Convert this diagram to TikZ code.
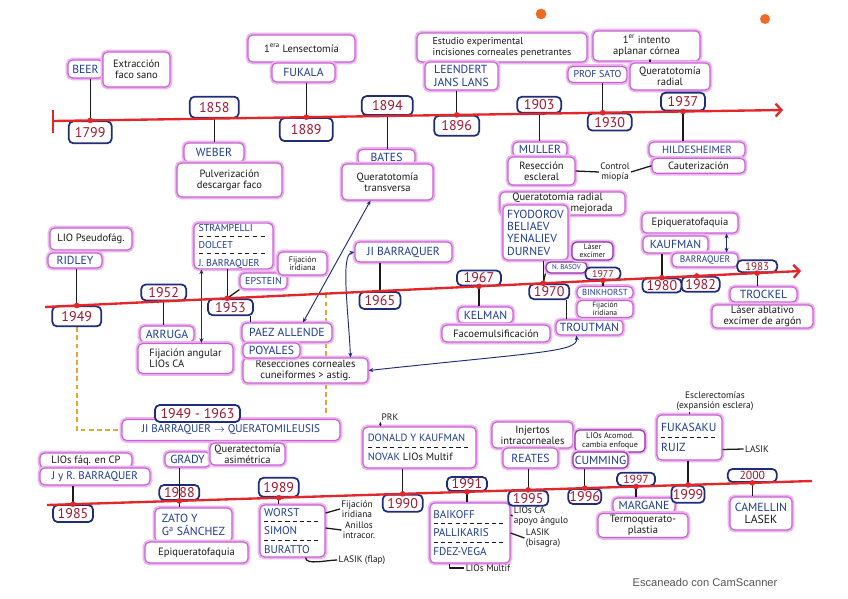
\documentclass[tikz,border=0pt]{standalone}
\usepackage{fontspec}
\setmainfont{PT Sans}
\setsansfont{Liberation Sans}
\usepackage{xcolor}
\usetikzlibrary{arrows.meta,positioning,calc}
\definecolor{tlred}{HTML}{E3262A}
\definecolor{hlpink}{HTML}{EDB4EF}
\definecolor{boxpink}{HTML}{C961D3}
\definecolor{boxpurple}{HTML}{8E2FA6}
\definecolor{navy}{HTML}{1F2C7C}
\definecolor{yrred}{HTML}{A3182E}
\definecolor{nameblue}{HTML}{1E3C94}
\definecolor{ink}{HTML}{1A1A1A}
\definecolor{hlorange}{HTML}{E2A72E}
\definecolor{holeorange}{HTML}{F06A24}
\definecolor{scangray}{HTML}{555555}
\pgfdeclarelayer{background}
\pgfsetlayers{background,main}
\tikzset{fig/.style={line join=round,>=Stealth},
  sz/.style 2 args={minimum width=#1*0.03cm,minimum height=#2*0.03cm},
  pinkbox/.style={rounded corners=4pt,fill=white,draw=boxpink,line width=1pt,
    preaction={draw=hlpink,line width=4pt},inner sep=0.7pt,align=center},
  deep/.style={draw=boxpurple},
  note/.style={pinkbox,text=ink,font=\fontsize{9}{9.5}\selectfont},
  who/.style={pinkbox,text=nameblue,font=\fontsize{10}{10.5}\selectfont},
  yr/.style={rounded corners=4pt,fill=white,draw=navy,line width=1.5pt,text=yrred,
    inner sep=0.5pt,font=\fontsize{12}{12}\selectfont},
  aside/.style={text=ink,align=center,inner sep=1pt,font=\fontsize{8}{9}\selectfont},
  stem/.style={ink,line width=1.1pt},
  link/.style={navy,line width=0.8pt,<->,>={Stealth[length=4pt,width=3.5pt]}},
  tline/.style={tlred,line width=2pt},
  dashline/.style={hlorange,line width=1.4pt,dash pattern=on 4pt off 3pt}}
\newcommand\dashsep[1]{\\[-2pt]\hbox to #1{\color{ink}\xleaders\hbox{\rule[3pt]{3.5pt}{0.6pt}\hskip 2.5pt}\hfill}\\[-2pt]}

\begin{document}
\begin{tikzpicture}[fig,x=0.03cm,y=-0.03cm]
  \useasboundingbox (0,0) rectangle (848,599);
  % the three time lines and their years
  \path (53,121) coordinate (ta) -- (783,110) coordinate (tb)
    coordinate[pos=0.051] (d1799) coordinate[pos=0.221] (d1858)
    coordinate[pos=0.347] (d1889) coordinate[pos=0.458] (d1894)
    coordinate[pos=0.553] (d1896) coordinate[pos=0.666] (d1903)
    coordinate[pos=0.753] (d1930) coordinate[pos=0.863] (d1937);
  \path (45,307) coordinate (ma) -- (801,271) coordinate (mb)
    coordinate[pos=0.042] (d1949) coordinate[pos=0.157] (d1952)
    coordinate[pos=0.241] (d1953) coordinate[pos=0.372] (d1963)
    coordinate[pos=0.443] (d1965) coordinate[pos=0.574] (d1967)
    coordinate[pos=0.659] (d1970) coordinate[pos=0.738] (d1977)
    coordinate[pos=0.816] (d1980) coordinate[pos=0.862] (d1982)
    coordinate[pos=0.942] (d1983);
  \path (47,505) coordinate (ba) -- (812,481) coordinate (bb)
    coordinate[pos=0.034] (d1985) coordinate[pos=0.173] (d1988)
    coordinate[pos=0.303] (d1989) coordinate[pos=0.465] (d1990)
    coordinate[pos=0.549] (d1991) coordinate[pos=0.629] (d1995)
    coordinate[pos=0.703] (d1996) coordinate[pos=0.770] (d1997)
    coordinate[pos=0.838] (d1999) coordinate[pos=0.922] (d2000);

  % top line: 1799 -- 1937
  \node[who,sz={35}{18}] (beer) at (85.5,69) {BEER};
  \node[note,sz={67}{35}] (beernote) at (136.5,69.5) {Extracción\\faco sano};
  \node[yr,sz={43}{22},below=0pt of d1799] (y1799) {1799};
  \node[yr,sz={49}{21},above=0pt of d1858] (y1858) {1858};
  \node[who,sz={60}{19}] (weber) at (214,152.5) {WEBER};
  \node[note,sz={105}{34}] (webernote) at (229.5,180) {Pulverización\\descargar faco};
  \node[note,sz={107}{27}] (lensect) at (301.5,48.5) {1\textsuperscript{era} Lensectomía};
  \node[who,sz={63}{19}] (fukala) at (303.5,72.5) {FUKALA};
  \node[yr,sz={53}{23},below=0pt of d1889] (y1889) {1889};
  \node[yr,sz={51}{19},above=0pt of d1894] (y1894) {1894};
  \node[who,sz={57}{15}] (bates) at (386.5,157) {BATES};
  \node[note,sz={91}{36}] (batesnote) at (387.5,182) {Queratotomía\\transversa};
  \node[note,sz={170}{29},align=left,font=\fontsize{8.5}{9}\selectfont] (lansnote) at (502,47.5) {Estudio experimental\\incisiones corneales penetrantes};
  \node[who,sz={73}{28},align=left] (lans) at (461.5,76) {LEENDERT\\JANS LANS};
  \node[yr,sz={45}{20},below=0pt of d1896] (y1896) {1896};
  \node[yr,sz={44}{16},above=0pt of d1903] (y1903) {1903};
  \node[who,sz={54}{15}] (muller) at (540,149.5) {MULLER};
  \node[note,sz={67}{28}] (mullernote) at (541.5,171) {Resección\\escleral};
  \node[aside] (miopia) at (615,172) {Control\\miopía};
  \node[note,sz={107}{30}] (satonote) at (646.5,46) {1\textsuperscript{er} intento\\aplanar córnea};
  \node[who,sz={59}{16},font=\fontsize{8.5}{9}\selectfont] (sato) at (597.5,74.5) {PROF SATO};
  \node[yr,sz={44}{17},below=0pt of d1930,xshift=0.21cm] (y1930) {1930};
  \node[note,sz={80}{27}] (qrnote) at (670,76.5) {Queratotomía\\radial};
  \node[yr,sz={44}{18},above=0pt of d1937] (y1937) {1937};
  \node[who,sz={96}{15},font=\fontsize{9}{9.5}\selectfont] (hilde) at (697,149.5) {HILDESHEIMER};
  \node[note,sz={93}{15}] (hildenote) at (698.5,165.8) {Cauterización};
  \draw[stem] (d1799 |- beer.south) -- (d1799);
  \draw[stem] (d1858) -- (d1858 |- weber.north);
  \draw[stem] (d1889 |- fukala.south) -- (d1889);
  \draw[stem] (d1894) -- (d1894 |- bates.north);
  \draw[stem] (d1896 |- lans.south) -- (d1896);
  \draw[stem] (d1903) -- (d1903 |- muller.north);
  \draw[stem] (mullernote.east) -- (miopia.west);
  \draw[stem] (miopia.east) -- (hildenote.west);
  \draw[stem] (d1930 |- sato.south) -- (d1930);
  \draw[stem,->,>={Stealth[length=3pt]}] ($(satonote.south)+(3.5,0)$) -- ($(satonote.south |- qrnote.north)+(3.5,0)$);
  \draw[stem] (d1937) -- (d1937 |- hilde.north);

  % middle line: 1949 -- 1983
  \node[note,sz={82}{22}] (ridleynote) at (91,239) {LIO Pseudofág.};
  \node[who,sz={54}{15}] (ridley) at (75,260.5) {RIDLEY};
  \node[yr,sz={49}{20},below=0pt of d1949] (y1949) {1949};
  \node[yr,sz={45}{16},above=0pt of d1952] (y1952) {1952};
  \node[who,sz={54}{16}] (arruga) at (167,334) {ARRUGA};
  \node[note,sz={95}{30},align=left] (arruganote) at (185.5,358.5) {Fijación angular\\LIOs CA};
  \node[who,sz={79}{42},align=left,font=\fontsize{8.5}{9.5}\selectfont] (strampelli) at (233.5,246) {STRAMPELLI\dashsep{2.1cm}DOLCET\dashsep{2.1cm}J. BARRAQUER};
  \node[who,sz={47}{16},font=\fontsize{8.5}{9.5}\selectfont] (epstein) at (263.5,281) {EPSTEIN};
  \node[note,sz={49}{23},font=\fontsize{7}{7.5}\selectfont] (epsteinnote) at (302.5,263.5) {Fijación\\iridiana};
  \node[yr,sz={45}{16},below=0pt of d1953,xshift=0.1cm] (y1953) {1953};
  \node[who,sz={90}{19}] (paez) at (287,332.5) {PAEZ ALLENDE};
  \node[note,sz={125}{25}] (resnote) at (305.5,370.5) {Resecciones corneales\\cuneiformes > astig.};
  \node[who,sz={57}{15}] (poyales) at (271.5,350.5) {POYALES};
  \node[who,sz={97}{20}] (jib) at (403.5,252) {JI BARRAQUER};
  \node[yr,sz={41}{17},below=0pt of d1965] (y1965) {1965};
  \node[yr,sz={44}{15},above=0pt of d1967] (y1967) {1967};
  \node[who,sz={55}{16}] (kelman) at (485.5,315) {KELMAN};
  \node[note,sz={108}{17}] (kelmannote) at (496,333.5) {Facoemulsificación};
  \node[note,sz={125}{23},align=left] (qrmnote) at (562.5,203.5) {Queratotomía radial\\\hspace*{1.75cm}mejorada};
  \node[who,sz={65}{55},align=left] (fyodorov) at (535.5,232.5) {FYODOROV\\BELIAEV\\YENALIEV\\DURNEV};
  \node[who,deep,sz={41}{11},font=\fontsize{6}{6.5}\selectfont] (basov) at (566.5,267.5) {N. BASOV};
  \node[note,deep,sz={41}{18},font=\fontsize{6.5}{7}\selectfont] (lasernote) at (592.5,251) {Láser\\excímer};
  \node[yr,sz={40}{15},below=0pt of d1970,xshift=0.18cm] (y1970) {1970};
  \node[who,sz={67}{15}] (troutman) at (589.5,327.5) {TROUTMAN};
  \node[yr,sz={35}{12},above=0pt of d1977,font=\fontsize{8.5}{9}\selectfont] (y1977) {1977};
  \node[who,sz={56}{12},font=\fontsize{7.5}{8}\selectfont] (binkhorst) at (605,292.5) {BINKHORST};
  \node[note,sz={56}{17},font=\fontsize{6.5}{7}\selectfont] (binknote) at (605,309) {Fijación\\iridiana};
  \node[note,sz={96}{20}] (epiknote) at (690,223) {Epiqueratofaquia};
  \node[who,sz={65}{17}] (kaufman) at (675.5,244.5) {KAUFMAN};
  \node[yr,sz={39}{14},below=0pt of d1980] (y1980) {1980};
  \node[yr,sz={38}{15},below=0pt of d1982,xshift=0.12cm] (y1982) {1982};
  \node[who,sz={66}{14},font=\fontsize{8}{8.5}\selectfont] (barraq) at (705,260) {BARRAQUER};
  \node[yr,sz={40}{12},above=0pt of d1983,font=\fontsize{9.5}{10}\selectfont] (y1983) {1983};
  \node[who,sz={67}{15}] (trockel) at (763.5,294.5) {TROCKEL};
  \node[note,sz={101}{23}] (trockelnote) at (762.5,316.5) {Láser ablativo\\excímer de argón};
  \draw[stem] (d1949 |- ridley.south) -- (d1949);
  \draw[stem] (d1952) -- (d1952 |- arruga.north);
  \draw[link] ($(strampelli.south west)+(8,0)$) -- ($(strampelli.south west |- arruganote.north)+(8,0)$);
  \draw[stem] (d1953 |- strampelli.south) -- (d1953);
  \draw[stem] (d1953) -- (epstein.south west);
  \draw[stem] ($(y1953.south -| paez.north west)+(9,0)$) -- ($(paez.north west)+(9,0)$);
  \draw[link] ($(batesnote.south)+(-17,0)$) -- ($(paez.north)+(16,0)$);
  \draw[stem] (d1965 |- jib.south) -- (d1965);
  \draw[link] (jib.west) .. controls +(-14,3) and +(-2,-45) .. ($(resnote.north)+(45,0)$);
  \draw[stem] (d1967) -- (d1967 |- kelman.north);
  \draw[stem] (d1970 |- fyodorov.south) -- (d1970);
  \draw[stem] (d1970) -- (basov.south west);
  \draw[stem] ($(y1970.south -| troutman.north west)+(11,0)$) -- ($(troutman.north west)+(11,0)$);
  \draw[link] (resnote.east) .. controls (540,352) and (578,352) .. ($(troutman.south west)+(21,0)$);
  \draw[stem] (d1977) -- (d1977 |- binkhorst.north);
  \draw[stem] (d1980 |- kaufman.south) -- (d1980);
  \draw[link] ($(epiknote.south east)+(-12,0)$) -- ($(barraq.north east)+(-12,0)$);
  \draw[stem] (d1983) -- (d1983 |- trockel.north);

  % bottom line: 1985 -- 2000
  \node[who,sz={218}{21},font=\fontsize{9.5}{10}\selectfont] (jibq) at (231,430) {JI BARRAQUER $\rightarrow$ QUERATOMILEUSIS};
  \node[yr,sz={85}{17}] (p4963) at (197.5,413.5) {1949 - 1963};
  \node[note,sz={92}{15}] (fpnote) at (86,460.5) {LIOs fáq. en CP};
  \node[who,sz={110}{17},font=\fontsize{9.5}{10}\selectfont] (jrb) at (95,476.5) {J y R. BARRAQUER};
  \node[yr,sz={40}{17},below=0pt of d1985] (y1985) {1985};
  \node[who,sz={45}{15}] (grady) at (187.5,459.5) {GRADY};
  \node[note,sz={75}{22}] (gradynote) at (247.5,454) {Queratectomía\\asimétrica};
  \node[yr,sz={40}{15},above=0pt of d1988] (y1988) {1988};
  \node[who,sz={77}{34},align=left] (zato) at (193.5,525) {ZATO Y\\G\textsuperscript{a} SÁNCHEZ};
  \node[note,sz={103}{21}] (zatonote) at (196.5,552.5) {Epiqueratofaquia};
  \node[yr,sz={40}{19},above=0pt of d1989] (y1989) {1989};
  \node[who,sz={65}{52},align=left,font=\fontsize{9.5}{10}\selectfont] (worst) at (292.5,531) {WORST\dashsep{1.7cm}SIMON\dashsep{1.7cm}BURATTO};
  \node[aside] (fijtext) at (357,509) {Fijación\\iridiana};
  \node[aside] (anitext) at (359,530) {Anillos\\intracor.};
  \node[aside] (lasiktext) at (362,560) {LASIK (flap)};
  \node[yr,sz={40}{17},below=0pt of d1990] (y1990) {1990};
  \node[who,sz={113}{41},align=left,font=\fontsize{9}{10}\selectfont] (dk) at (419.5,447.5) {DONALD Y KAUFMAN\dashsep{3.1cm}NOVAK {\color{ink}LIOs Multif}};
  \node[aside] (prk) at (390,417) {PRK};
  \node[yr,sz={40}{14},above=0pt of d1991] (y1991) {1991};
  \node[who,sz={80}{60},align=left,font=\fontsize{9.5}{10}\selectfont] (bpf) at (470,533) {BAIKOFF\dashsep{2.2cm}PALLIKARIS\dashsep{2.2cm}FDEZ-VEGA};
  \node[aside,align=left] (caang) at (541,516) {LIOs CA\\apoyo ángulo};
  \node[aside,align=left] (lasikb) at (543,538) {LASIK\\(bisagra)};
  \node[aside] (multif2) at (488,568) {LIOs Multif};
  \node[note,sz={81}{26}] (injnote) at (532.5,435) {Injertos\\intracorneales};
  \node[who,sz={55}{20}] (reates) at (530.5,458) {REATES};
  \node[yr,sz={40}{15},below=0pt of d1995] (y1995) {1995};
  \node[yr,sz={33}{15},below=0pt of d1996] (y1996) {1996};
  \node[note,deep,sz={70}{22},font=\fontsize{7}{7.5}\selectfont] (cumnote) at (610,441) {LIOs Acomod.\\cambia enfoque};
  \node[who,deep,sz={55}{16}] (cumming) at (600.5,460) {CUMMING};
  \node[yr,sz={38}{13},above=0pt of d1997,font=\fontsize{10}{10}\selectfont] (y1997) {1997};
  \node[who,sz={62}{15}] (margane) at (644,505.5) {MARGANE};
  \node[note,sz={90}{24}] (margnote) at (643,525.5) {Termoquerato-\\plastia};
  \node[aside] (esctext) at (715,401) {Esclerectomías\\(expansión esclera)};
  \node[who,sz={65}{45},align=left] (fr) at (689.5,437.5) {FUKASAKU\dashsep{1.7cm}RUIZ};
  \node[aside] (lasik99) at (757,449) {LASIK};
  \node[yr,sz={33}{17},below=0pt of d1999] (y1999) {1999};
  \node[yr,sz={49}{13},above=0pt of d2000,font=\fontsize{10}{10}\selectfont] (y2000) {2000};
  \node[who,sz={62}{33}] (camellin) at (761,513.5) {CAMELLIN\\{\color{ink}LASEK}};
  \draw[stem] (d1985 |- jrb.south) -- (d1985);
  \draw[stem] (d1988 |- grady.south) -- (d1988);
  \draw[stem] (d1988) -- (d1988 |- zato.north);
  \draw[stem] (d1989) -- (d1989 |- worst.north);
  \draw[stem] ($(worst.east)+(0,-18)$) -- (fijtext.west);
  \draw[stem] ($(worst.east)+(0,-3)$) -- (anitext.west);
  \draw[stem] ($(worst.south east)+(-20,0)$) .. controls +(0,8) and +(-10,0) .. (lasiktext.west);
  \draw[stem] (d1990 |- dk.south) -- (d1990);
  \draw[stem,->,>={Stealth[length=3pt]}] (prk.south west |- dk.north) -- (prk.south west);
  \draw[stem] (d1991) -- (d1991 |- bpf.north);
  \draw[stem] ($(bpf.east)+(0,-18)$) -- (caang.west);
  \draw[stem] (bpf.east) -- (lasikb.west);
  \draw[stem] ($(bpf.south west)+(20,0)$) |- (multif2.west);
  \draw[stem] (d1995 |- reates.south) -- (d1995);
  \draw[stem] (d1996 |- cumming.south) -- (d1996);
  \draw[stem] (d1997) -- (d1997 |- margane.north);
  \draw[stem] (fr.north) -- (fr.north |- esctext.south);
  \draw[stem] ($(fr.east)+(0,12)$) -- (lasik99.west);
  \draw[stem] (d1999 |- fr.south) -- (d1999);
  \draw[stem] (d2000) -- (d2000 |- camellin.north);

  % the red lines on top of the year boxes
  \draw[tline] (53,110) -- (53,133);
  \draw[tline,-{Straight Barb[length=5pt,width=11pt]}] (ta) -- (tb);
  \draw[tline,-{Straight Barb[length=5pt,width=11pt]}] (ma) -- (mb);
  \draw[tline] (ba) -- (bb);
  \foreach \d in {d1799,d1889,d1896,d1930,d1937,d1949,d1953,d1967,d1970,d1977,d1980,d1982,d1983,
    d1985,d1988,d1989,d1990,d1991,d1995,d1996,d1997,d1999,d2000}
    \fill[tlred] (\d) circle (2.4pt);

  % 1949 -- 1963 period, behind the boxes
  \begin{pgfonlayer}{background}
    \fill[white] (0,0) rectangle (848,599);
    \draw[dashline] (y1949.south) |- (jibq.west);
    \draw[dashline] (d1963) -- (d1963 |- jibq.north);
  \end{pgfonlayer}

  \fill[holeorange] (541,14) circle (0.16cm);
  \fill[holeorange] (765,19) circle (0.15cm);
  \node[font=\sffamily\fontsize{9.5}{10}\selectfont,text=scangray] (scan) at (705,583) {Escaneado con CamScanner};
\end{tikzpicture}
\end{document}
